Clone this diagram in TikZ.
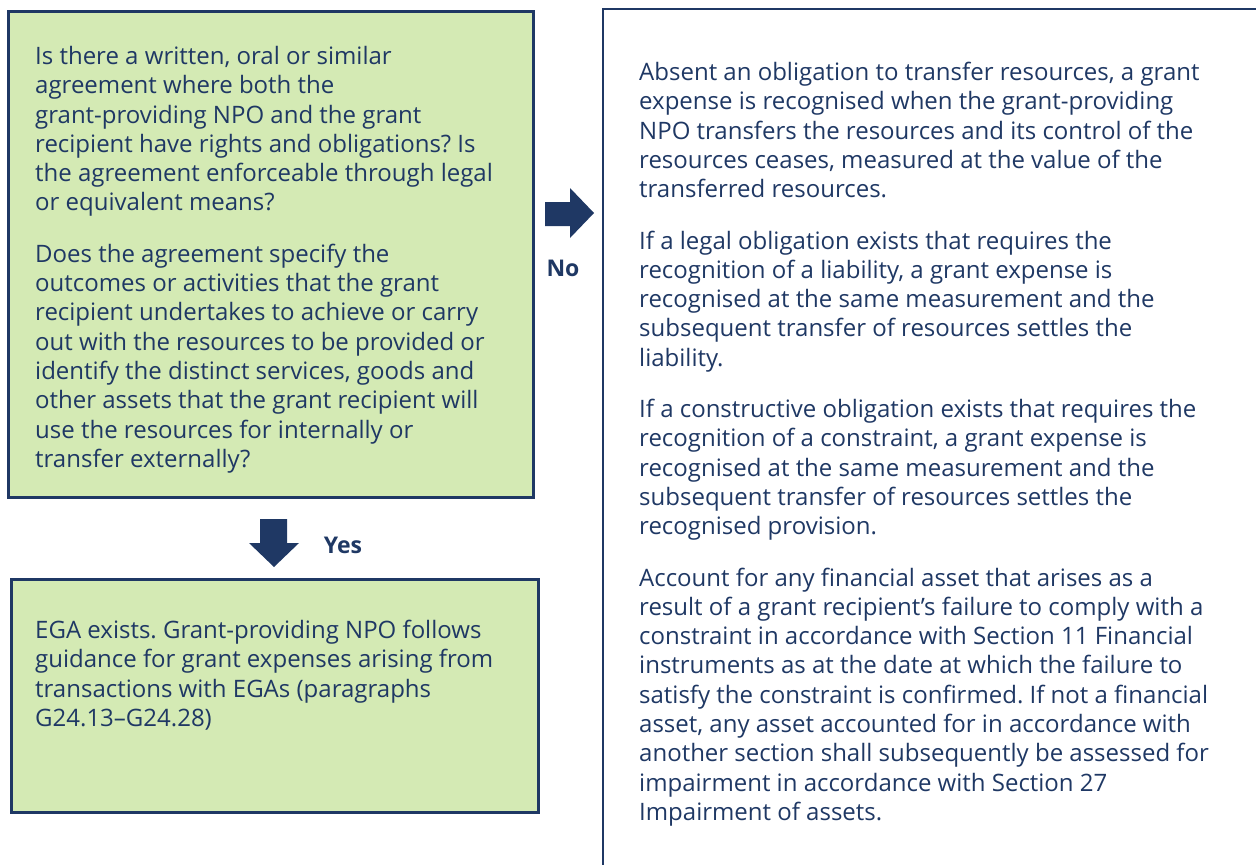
\documentclass[tikz,border=0pt]{standalone}
\usepackage{fontspec}
\setmainfont{Open Sans}
\definecolor{navy}{HTML}{1F3864}
\definecolor{leaf}{HTML}{D4EAB4}
\begin{document}
\frenchspacing
\begin{tikzpicture}[x=1pt,y=-1pt,
  box/.style={draw=navy,fill=leaf,line width=2.5pt,inner sep=0pt,anchor=north west},
  body/.style={anchor=north west,inner sep=0pt,align=left,text=navy,
    font={\fontsize{24}{29.3}\selectfont}},
  tag/.style={text=navy,inner sep=0pt,font={\fontsize{23}{27}\selectfont\bfseries}},
  blockarrow/.style={fill=navy,draw=none}]
\useasboundingbox (0,0) rectangle (1256,865);

% question box and outcome box
\node[box,minimum width=525pt,minimum height=486pt] (question) at (7,10) {};
\node[box,minimum width=527pt,minimum height=233pt] (ega) at (10,578) {};

% open panel on the right (runs off the page edge)
\coordinate (panelbottom) at (603,870);
\coordinate (panelcorner) at (603,9);
\coordinate (panelright) at (1262,9);
\draw[navy,line width=2.8pt] (panelbottom) -- (panelcorner) -- (panelright);

% block arrows
\fill[blockarrow] (545,202) -- (570,202) -- (570,188) -- (594,213) -- (570,238)
  -- (570,226) -- (545,226) -- cycle;
\fill[blockarrow] (260,519) -- (287,519) -- (287,543) -- (299,543) -- (274,567)
  -- (249,543) -- (260,543) -- cycle;
\node[tag] (no) at (563,268) {No};
\node[tag] (yes) at (343,545) {Yes};

% texts
\node[body] (qtext) at (35,46) {Is there a written, oral or similar\\
agreement where both the\\
grant-providing NPO and the grant\\
recipient have rights and obligations? Is\\
the agreement enforceable through legal\\
or equivalent means?\\[22pt]
Does the agreement specify the\\
outcomes or activities that the grant\\
recipient undertakes to achieve or carry\\
out with the resources to be provided or\\
identify the distinct services, goods and\\
other assets that the grant recipient will\\
use the resources for internally or\\
transfer externally?};

\node[body] (egatext) at (35,620) {EGA exists. Grant-providing NPO follows\\
guidance for grant expenses arising from\\
transactions with EGAs (paragraphs\\
G24.13–G24.28)};

\node[body] (paneltext) at (639,62) {Absent an obligation to transfer resources, a grant\\
expense is recognised when the grant-providing\\
NPO transfers the resources and its control of the\\
resources ceases, measured at the value of the\\
transferred resources.\\[22pt]
If a legal obligation exists that requires the\\
recognition of a liability, a grant expense is\\
recognised at the same measurement and the\\
subsequent transfer of resources settles the\\
liability.\\[22pt]
If a constructive obligation exists that requires the\\
recognition of a constraint, a grant expense is\\
recognised at the same measurement and the\\
subsequent transfer of resources settles the\\
recognised provision.\\[22pt]
Account for any financial asset that arises as a\\
result of a grant recipient’s failure to comply with a\\
constraint in accordance with Section 11 Financial\\
instruments as at the date at which the failure to\\
satisfy the constraint is confirmed. If not a financial\\
asset, any asset accounted for in accordance with\\
another section shall subsequently be assessed for\\
impairment in accordance with Section 27\\
Impairment of assets.};
\end{tikzpicture}
\end{document}
